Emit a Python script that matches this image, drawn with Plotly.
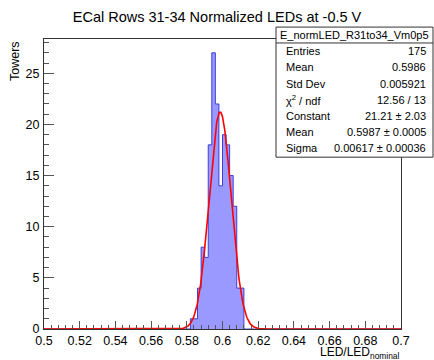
import numpy as np
import plotly.graph_objects as go

# ---------------- data ----------------
x_min, x_max, n_bins = 0.5, 0.7, 100
first_bin_low = 0.582
counts_nonzero = [1, 1, 4, 8, 7, 18, 27, 22, 14, 19, 18, 15, 12, 4, 4]

fit_constant = 21.21
fit_mean = 0.5987
fit_sigma = 0.00617

title_text = "ECal Rows 31-34 Normalized LEDs at -0.5 V"
stats_name = "E_normLED_R31to34_Vm0p5"
stats_labels = ["Entries", "Mean", "Std Dev", "χ<sup>2</sup> / ndf", "Constant", "Mean", "Sigma"]
stats_values = ["175", "0.5986", "0.005921", "12.56 / 13", "21.21 ± 2.03", "0.5987 ± 0.0005", "0.00617 ± 0.00036"]

# ---------------- histogram arrays ----------------
bw = (x_max - x_min) / n_bins
edges = x_min + bw * np.arange(n_bins + 1)
counts = np.zeros(n_bins)
i0 = int(round((first_bin_low - x_min) / bw))
counts[i0:i0 + len(counts_nonzero)] = counts_nonzero
step_x = edges
step_y = np.append(counts, counts[-1])

fx = np.linspace(x_min, x_max, 1000)
fy = fit_constant * np.exp(-0.5 * ((fx - fit_mean) / fit_sigma) ** 2)

# ---------------- geometry ----------------
W, H = 434, 360
L, R, T, B = 44, 401, 39, 331
ymax = 28.35
FONT = "Liberation Sans, Arial, Helvetica, sans-serif"


def px(xp):
    return (xp - L) / (R - L)


def py(yp):
    return (B - yp) / (B - T)


fig = go.Figure()
fig.add_trace(go.Scatter(
    x=step_x, y=step_y, mode="lines", line_shape="hv",
    line=dict(color="rgba(40,40,210,0.85)", width=1),
    fill="tozeroy", fillcolor="rgb(153,153,255)", hoverinfo="skip"))
fig.add_trace(go.Scatter(
    x=fx, y=fy, mode="lines", line=dict(color="#ff0000", width=1.6), hoverinfo="skip"))

axis_common = dict(
    showgrid=False, zeroline=False, showline=True, mirror=True,
    linecolor="#333333", linewidth=1, ticks="inside", tickcolor="#555555",
    tickfont=dict(family=FONT, size=12.5, color="#000000"))

fig.update_xaxes(range=[x_min, x_max], tick0=0.5, dtick=0.02, ticklen=8,
                 tickformat="~g",
                 minor=dict(ticks="inside", dtick=0.004, ticklen=4, tickcolor="#555555"),
                 **axis_common)
fig.update_yaxes(range=[0, ymax], tick0=0, dtick=5, ticklen=10,
                 minor=dict(ticks="inside", dtick=1, ticklen=5, tickcolor="#555555"),
                 ticklabelstandoff=1,
                 **axis_common)

# stats box
bx0, bx1, by0, by1, bsep = 276, 433, 27, 158, 43
SF = 11
shapes = [
    dict(type="rect", xref="paper", yref="paper", x0=px(bx0), x1=px(bx1), y0=py(by1), y1=py(by0),
         line=dict(color="#333333", width=1), fillcolor="white", layer="above"),
    dict(type="line", xref="paper", yref="paper", x0=px(bx0), x1=px(bx1), y0=py(bsep), y1=py(bsep),
         line=dict(color="#333333", width=1), layer="above"),
]
annotations = [
    dict(text=stats_name, xref="paper", yref="paper", x=px((bx0 + bx1) / 2), y=py(35),
         xanchor="center", yanchor="middle", showarrow=False,
         font=dict(family=FONT, size=SF, color="black")),
]
row_y = [51, 67.5, 84, 100, 116.5, 133, 149]
for lab, val, yy in zip(stats_labels, stats_values, row_y):
    annotations.append(dict(text=lab, xref="paper", yref="paper", x=px(284), y=py(yy),
                            xanchor="left", yanchor="middle", showarrow=False,
                            font=dict(family=FONT, size=SF, color="black")))
    annotations.append(dict(text=val, xref="paper", yref="paper", x=px(428), y=py(yy),
                            xanchor="right", yanchor="middle", showarrow=False,
                            font=dict(family=FONT, size=SF, color="black")))

annotations.append(dict(text="LED/LED<sub>nominal</sub>", xref="paper", yref="paper",
                        x=1.0, y=py(355), xanchor="right", yanchor="middle", showarrow=False,
                        font=dict(family=FONT, size=12, color="black")))
annotations.append(dict(text="Towers", xref="paper", yref="paper", textangle=-90,
                        x=px(15), y=1.0, xanchor="center", yanchor="top", showarrow=False,
                        font=dict(family=FONT, size=12.5, color="black")))

fig.update_layout(
    width=W, height=H,
    margin=dict(l=L, r=W - R, t=T, b=H - B),
    paper_bgcolor="white", plot_bgcolor="white",
    showlegend=False,
    title=dict(text=title_text, x=217 / W, xref="container",
               y=1 - 17 / H, yref="container", xanchor="center", yanchor="middle",
               font=dict(family=FONT, size=14.5, color="black")),
    shapes=shapes, annotations=annotations,
)

fig.write_html("out.html")
